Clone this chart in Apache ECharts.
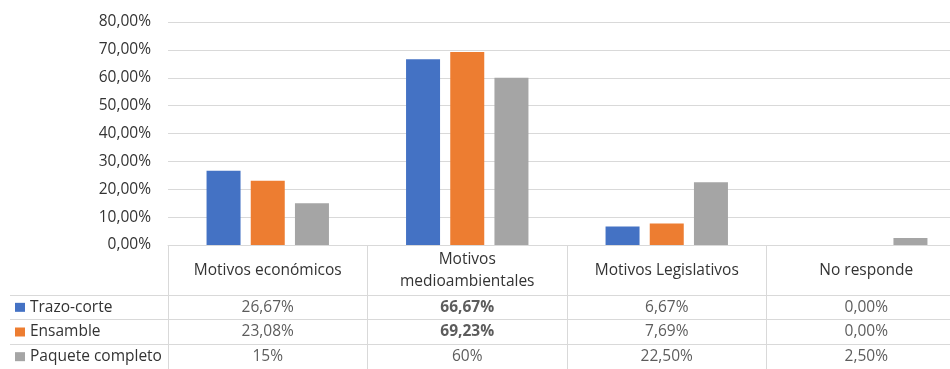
<!DOCTYPE html>
<html>
<head>
<meta charset="utf-8">
<script src="https://cdn.jsdelivr.net/npm/echarts@6/dist/echarts.min.js"></script>
<style>
  html, body { margin: 0; padding: 0; background: #fff; overflow: hidden; width: 950px; height: 369px; }
  #chart { width: 966px; height: 369px; }
</style>
</head>
<body>
<div id="chart"></div>
<script>
// ---- data ----
const categories = ['Motivos económicos', 'Motivos\nmedioambientales', 'Motivos Legislativos', 'No responde'];
const seriesNames = ['Trazo-corte', 'Ensamble', 'Paquete completo'];
const trazoCorte = [26.67, 66.67, 6.67, 0];
const ensamble = [23.08, 69.23, 7.69, 0];
const paqueteCompleto = [15, 60, 22.5, 2.5];
const trazoCorteText = ['26,67%', '66,67%', '6,67%', '0,00%'];
const ensambleText = ['23,08%', '69,23%', '7,69%', '0,00%'];
const paqueteCompletoText = ['15%', '60%', '22,50%', '2,50%'];
const yMin = 0, yMax = 80, yStep = 10;

// ---- styling ----
const FONT = '"Open Sans", sans-serif';
const FS = 15.5;
const TXT = '#333333';
const LINE = '#d9d9d9';
const COLORS = ['#4472C4', '#ED7D31', '#A5A5A5'];
const boldCells = new Set(['1-0', '1-1']); // column-row

const seriesValues = [trazoCorte, ensamble, paqueteCompleto];
const seriesTexts = [trazoCorteText, ensambleText, paqueteCompletoText];

const cellData = [];
seriesTexts.forEach((arr, r) => arr.forEach((t, c) => cellData.push([c, r, t])));

const chart = echarts.init(document.getElementById('chart'), null, { renderer: 'canvas' });
const rich = { t: { fontFamily: FONT, fontSize: FS, color: TXT, padding: [0, 0, 0, 5] } };
COLORS.forEach((c, i) => { rich['k' + i] = { width: 10, height: 9, backgroundColor: c }; });

chart.setOption({
  animation: false,
  textStyle: { fontFamily: FONT },
  grid: [
    { left: 168, top: 22, right: 0, height: 223 },
    { left: 168, top: 295, right: 0, height: 78 }
  ],
  xAxis: [
    {
      type: 'category', gridIndex: 0, data: categories,
      axisLine: { lineStyle: { color: LINE, width: 1 } },
      axisTick: { show: true, length: 50, lineStyle: { color: LINE } },
      axisLabel: {
        interval: 0, margin: 26, verticalAlign: 'middle', align: 'center',
        fontFamily: FONT, fontSize: FS, color: TXT, lineHeight: 22
      }
    },
    {
      type: 'category', gridIndex: 1, data: categories, position: 'top',
      axisLine: { show: true, lineStyle: { color: LINE } },
      axisTick: { show: false }, axisLabel: { show: false },
      splitLine: { show: true, lineStyle: { color: LINE } }
    }
  ],
  yAxis: [
    {
      type: 'value', gridIndex: 0, min: yMin, max: yMax, interval: yStep,
      axisLine: { show: false }, axisTick: { show: false },
      splitLine: { lineStyle: { color: LINE } },
      axisLabel: {
        margin: 17, fontFamily: FONT, fontSize: FS, color: TXT,
        formatter: v => v.toFixed(2).replace('.', ',') + '%'
      }
    },
    {
      type: 'category', gridIndex: 1, data: seriesNames, inverse: true,
      axisLine: { show: true, lineStyle: { color: LINE } },
      axisTick: { show: true, length: 158, lineStyle: { color: LINE } },
      splitLine: { show: true, lineStyle: { color: LINE } },
      axisLabel: {
        margin: 153, align: 'left',
        formatter: (v, i) => `{k${i}|}{t|${v}}`,
        rich: rich
      }
    }
  ],
  series: [
    ...seriesNames.map((n, i) => ({
      name: n, type: 'bar', xAxisIndex: 0, yAxisIndex: 0,
      data: seriesValues[i], barWidth: 34, barGap: '30%',
      itemStyle: { color: COLORS[i] }, silent: true
    })),
    {
      type: 'scatter', xAxisIndex: 1, yAxisIndex: 1, data: cellData,
      symbolSize: 0, itemStyle: { color: 'transparent' }, silent: true,
      label: {
        show: true, position: 'inside',
        formatter: p => boldCells.has(p.data[0] + '-' + p.data[1]) ? `{b|${p.data[2]}}` : `{n|${p.data[2]}}`,
        rich: {
          n: { fontFamily: FONT, fontSize: FS, color: TXT },
          b: { fontFamily: FONT, fontSize: FS, color: TXT, fontWeight: 'bold' }
        }
      }
    }
  ]
});
</script>
</body>
</html>
